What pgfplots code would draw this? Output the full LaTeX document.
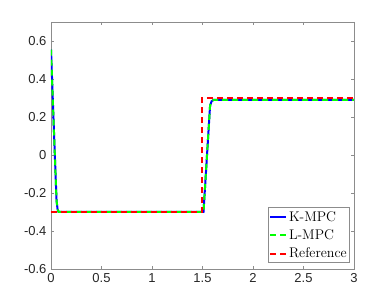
\documentclass[border=0pt]{standalone}
\usepackage{pgfplots}
\pgfplotsset{compat=1.18}
\usepackage{fontspec}
\newfontfamily\tickfont{Liberation Sans}
\definecolor{axgray}{rgb}{0.55,0.55,0.55}
\definecolor{txtgray}{rgb}{0.15,0.15,0.15}
\begin{document}
\begin{tikzpicture}
\useasboundingbox (0,0) rectangle (392pt,303pt);
\begin{axis}[
  at={(51pt,34pt)}, anchor=south west,
  scale only axis, width=303pt, height=247pt,
  xmin=0, xmax=3, ymin=-0.6, ymax=0.7,
  xtick={0,0.5,1,1.5,2,2.5,3},
  ytick={-0.6,-0.4,-0.2,0,0.2,0.4,0.6},
  tick align=inside,
  major tick length=3pt,
  axis line style={color=axgray, line width=0.8pt},
  tick style={color=axgray, line width=0.6pt},
  ticklabel style={font=\tickfont\fontsize{13}{13}\selectfont, text=txtgray},
  /pgf/number format/assume math mode=true,
  /pgf/number format/fixed,
  /pgf/number format/precision=1,
  xticklabel style={yshift=-1pt},
  yticklabel style={xshift=-1pt},
  legend style={at={(0.987,0.024)}, anchor=south east,
    draw=axgray, line width=0.6pt,
    font=\fontsize{14}{14}\selectfont,
    inner xsep=1pt, inner ysep=1.5pt, row sep=3pt},
  legend cell align=left,
  legend image code/.code={\draw[#1] (0pt,0pt) -- (16pt,0pt);},
]
\addplot[blue, line width=2pt] coordinates {
 (0,0.555) (0.02,0.26) (0.04,-0.03) (0.055,-0.24) (0.065,-0.285) (0.075,-0.3)
 (1.51,-0.3) (1.575,0.26) (1.59,0.283) (1.61,0.29) (3,0.29)};
\addlegendentry{K-MPC}
\addplot[green, line width=2pt, dash pattern=on 6pt off 4pt] coordinates {
 (0,0.555) (0.02,0.26) (0.04,-0.03) (0.055,-0.24) (0.065,-0.285) (0.075,-0.3)
 (1.51,-0.3) (1.575,0.26) (1.59,0.283) (1.61,0.29) (3,0.29)};
\addlegendentry{L-MPC}
\addplot[red, line width=2pt, dash pattern=on 6pt off 4pt] coordinates {
 (0,-0.3) (1.5,-0.3) (1.5,0.3) (3,0.3)};
\addlegendentry{Reference}
\end{axis}
\end{tikzpicture}
\end{document}
